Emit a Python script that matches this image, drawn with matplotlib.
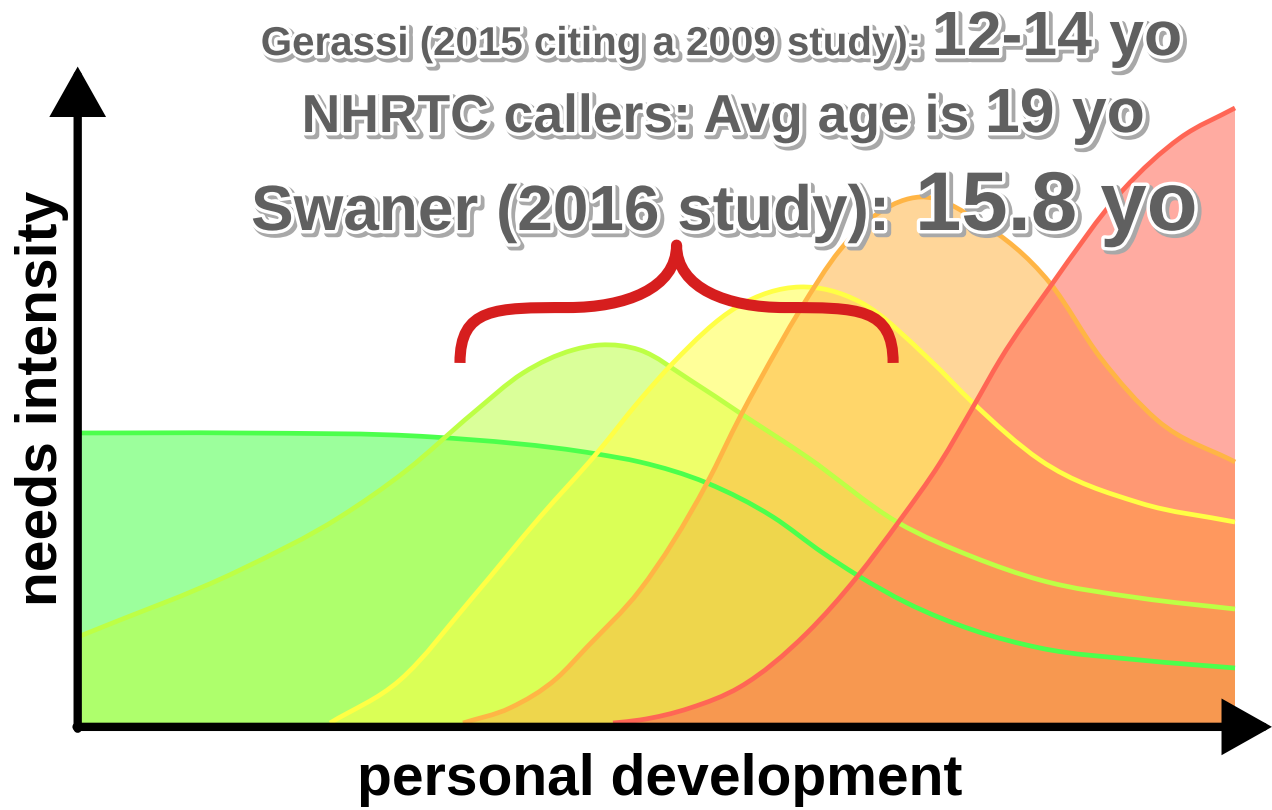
import numpy as np
import matplotlib
matplotlib.use("Agg")
from matplotlib import pyplot as plt
from matplotlib.path import Path
from matplotlib.patches import PathPatch
import matplotlib.patheffects as pe

plt.rcParams["font.family"] = ["Liberation Sans", "DejaVu Sans"]

# personal development (0-100) vs needs intensity (0-100)
green_x = [0, 13.85, 30.56, 44.76, 48.48, 54.29, 60.00, 64.33, 67.27, 71.60, 77.32,
           83.12, 91.77, 100]
green_y = [47.10, 47.10, 46.45, 43.71, 42.42, 39.03, 33.55, 27.74, 24.19, 19.68,
           15.32, 12.42, 10.48, 9.19]

lime_x = [0, 13.85, 22.51, 28.31, 34.03, 38.35, 42.68, 45.02, 48.48, 52.81, 57.14,
          62.94, 70.74, 77.32, 83.12, 91.77, 100]
lime_y = [14.35, 25.00, 33.55, 41.13, 50.32, 56.77, 60.48, 61.29, 60.48, 55.65,
          50.32, 43.23, 32.74, 27.10, 23.39, 20.48, 18.71]

yellow_x = [21.65, 27.71, 34.03, 39.83, 44.76, 48.48, 51.34, 56.88, 62.34, 67.53,
            73.59, 77.32, 83.12, 91.77, 100]
yellow_y = [0.32, 7.26, 20.65, 33.55, 43.87, 52.42, 58.39, 67.42, 70.65, 68.23,
            58.87, 51.94, 42.74, 35.81, 32.74]

orange_x = [33.16, 37.23, 41.30, 43.90, 48.48, 54.29, 57.14, 58.87, 62.34, 65.80,
            69.26, 72.73, 77.92, 83.98, 88.31, 93.25, 100]
orange_y = [0.32, 2.75, 7.58, 12.58, 21.77, 39.03, 49.68, 55.65, 66.94, 76.61,
            82.74, 85.16, 81.13, 71.29, 59.35, 49.19, 42.42]

red_x = [46.15, 48.48, 52.81, 57.14, 62.94, 67.27, 71.00, 74.46, 77.32, 79.65,
         83.98, 90.30, 95.24, 100]
red_y = [0.32, 0.81, 2.74, 6.13, 14.84, 23.87, 33.06, 42.26, 51.29, 58.87, 70.65,
         86.29, 94.68, 99.52]

series = [
    (green_x, green_y, "#4cff4c"),
    (lime_x, lime_y, "#bdff45"),
    (yellow_x, yellow_y, "#ffff45"),
    (orange_x, orange_y, "#ffb545"),
    (red_x, red_y, "#ff6655"),
]

# bracket over the 12-19 yo range
brace_x = [32.9, 70.4]
brace_y = [58.4, 77.4]

header_lines = [
    ("Gerassi (2015 citing a 2009 study):", "12-14 yo"),
    ("NHRTC callers: Avg age is", "19 yo"),
    ("Swaner (2016 study):", "15.8 yo"),
]

W, H = 1272, 810


def smooth_verts(xs, ys):
    # cubic hermite through the read points, drawn as bezier segments
    x = np.asarray(xs, float)
    y = np.asarray(ys, float)
    h = np.diff(x)
    d = np.diff(y) / h
    m = np.empty_like(y)
    m[0], m[-1] = d[0], d[-1]
    m[1:-1] = (h[:-1] * d[1:] + h[1:] * d[:-1]) / (h[:-1] + h[1:])
    verts = [(x[0], y[0])]
    codes = [Path.MOVETO]
    for i in range(len(x) - 1):
        verts += [(x[i] + h[i] / 3, y[i] + m[i] * h[i] / 3),
                  (x[i + 1] - h[i] / 3, y[i + 1] - m[i + 1] * h[i] / 3),
                  (x[i + 1], y[i + 1])]
        codes += [Path.CURVE4] * 3
    return verts, codes


fig = plt.figure(figsize=(W / 100, H / 100), dpi=100)
ax = fig.add_axes([0, 0, 1, 1])
ax.set_xlim(-80 / 11.55, (W - 80) / 11.55)
ax.set_ylim((725 - H) / 6.2, 725 / 6.2)
ax.axis("off")

# fills first, outlines on top
lines = []
for xs, ys, col in series:
    verts, codes = smooth_verts(xs, ys)
    fill_verts = verts + [(xs[-1], 0), (xs[0], 0), (xs[0], 0)]
    fill_codes = codes + [Path.LINETO, Path.LINETO, Path.CLOSEPOLY]
    ax.add_patch(PathPatch(Path(fill_verts, fill_codes), facecolor=col,
                           edgecolor="none", alpha=0.55))
    lines.append((Path(verts, codes), col))
for path, col in lines:
    ax.add_patch(PathPatch(path, facecolor="none", edgecolor=col, lw=3.4))

# curly brace
x0, x1 = brace_x
y0, y1 = brace_y
w = x1 - x0
xm = (x0 + x1) / 2
ym = y0 + 0.47 * (y1 - y0)
bv = [(x0, y0),
      (x0, ym), (x0 + 0.08 * w, ym), (x0 + 0.25 * w, ym),
      (xm - 0.12 * w, ym), (xm, ym + 0.3 * (y1 - ym)), (xm, y1),
      (xm, ym + 0.3 * (y1 - ym)), (xm + 0.12 * w, ym), (x1 - 0.25 * w, ym),
      (x1 - 0.08 * w, ym), (x1, ym), (x1, y0)]
bc = [Path.MOVETO] + [Path.CURVE4] * 12
ax.add_patch(PathPatch(Path(bv, bc), facecolor="none", edgecolor="#d61e1e",
                       lw=8, joinstyle="round", capstyle="butt"))

# axes arrows
arrow = dict(arrowstyle="-|>,head_length=0.8,head_width=0.45", lw=6,
             color="black", mutation_scale=34, shrinkA=0, shrinkB=0,
             joinstyle="miter")
ax.annotate("", xy=(103.2, -0.3), xytext=(-0.3, -0.3), arrowprops=arrow)
ax.annotate("", xy=(-0.2, 106.2), xytext=(-0.2, -0.6), arrowprops=arrow)

ax.text(660 / W, 1 - 795 / H, "personal development", transform=fig.transFigure,
        ha="center", va="baseline", fontsize=41, fontweight="bold")
ax.text(42 / W, 1 - 398 / H, "needs intensity", transform=fig.transFigure,
        ha="center", va="center", rotation=90, fontsize=41, fontweight="bold")

fx = [pe.Stroke(linewidth=6, foreground="#a8a8a8", offset=(2.2, -2.2)),
      pe.Stroke(linewidth=5, foreground="white"), pe.Normal()]
left_end = [920, 970, 890]
right_start = [932, 985, 915]
baselines = [55, 132, 230]
sizes = [(29, 45), (38.5, 45), (46, 60)]
for (a, b), le, rs, base, (s1, s2) in zip(header_lines, left_end, right_start,
                                          baselines, sizes):
    ax.text(le / W, 1 - base / H, a, transform=fig.transFigure, ha="right",
            va="baseline", fontsize=s1, fontweight="bold", color="#606060",
            path_effects=fx)
    ax.text(rs / W, 1 - base / H, b, transform=fig.transFigure, ha="left",
            va="baseline", fontsize=s2, fontweight="bold", color="#606060",
            path_effects=fx)

fig.savefig("out.png", dpi=100)
